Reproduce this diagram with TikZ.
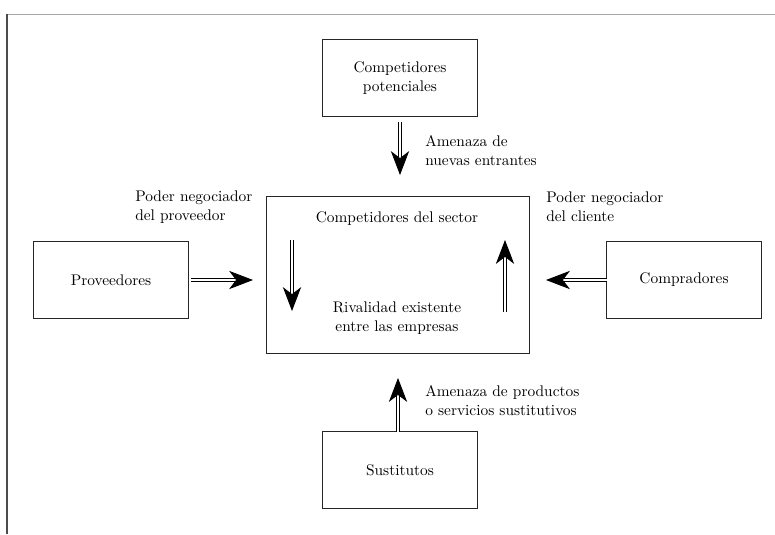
\documentclass[tikz,border=0pt]{standalone}
\usepackage{tikz}
\usetikzlibrary{arrows.meta,calc}

\begin{document}
\begin{tikzpicture}[x=0.025cm,y=-0.025cm,
    box/.style={draw=black!85,line width=0.6pt,minimum width=155*0.025cm,minimum height=77*0.025cm,inner sep=0pt,align=center},
    shaft/.style={line width=0.6pt,double,double distance=1.6pt},
    tip/.style={-{Stealth[length=17pt,width=13pt,inset=5pt]}},
    note/.style={inner sep=0pt,align=left,anchor=west},
    every node/.style={font=\fontsize{10.95}{13.5}\selectfont}]
\useasboundingbox (0,0) rectangle (775,534);

% page frame
\draw[black!35,line width=0.5pt] (6,14) -- (775,14);
\draw[black!70,line width=0.8pt] (7,14) -- (7,534);

% the five forces
\node[box] (pot) at (400,78) {Competidores\\potenciales};
\node[box] (prov) at (111,280) {Proveedores};
\node[box] (comp) at (684,280) {Compradores};
\node[box] (sust) at (400,470) {Sustitutos};
\node[box,minimum width=263*0.025cm,minimum height=157*0.025cm] (sec) at (397.5,274.5) {};

\node (secname) at (397,219) {Competidores del sector};
\node[align=center] (rival) at (397,318) {Rivalidad existente\\entre las empresas};

% arrow ends
\coordinate (a1) at (400,122);
\coordinate (b1) at (400,175);
\coordinate (a2) at (191,280);
\coordinate (b2) at (253,280);
\coordinate (a3) at (607,280);
\coordinate (b3) at (546,280);
\coordinate (a4) at (398,432);
\coordinate (b4) at (398,378);
\coordinate (a5) at (292,240);
\coordinate (b5) at (292,311);
\coordinate (a6) at (505,312);
\coordinate (b6) at (505,240);

% double shafts, then the heads
\foreach \i in {1,...,6}{
  \draw[shaft,shorten >=12pt] (a\i) -- (b\i);
  \draw[tip,line width=0.6pt] ($(b\i)!0.1!(a\i)$) -- (b\i);
}

% labels
\node[note] (l1) at (425,151) {Amenaza de\\nuevas entrantes};
\node[note] (l2) at (135,207) {Poder negociador\\del proveedor};
\node[note] (l3) at (546,207) {Poder negociador\\del cliente};
\node[note] (l4) at (425,401) {Amenaza de productos\\o servicios sustitutivos};
\end{tikzpicture}
\end{document}
